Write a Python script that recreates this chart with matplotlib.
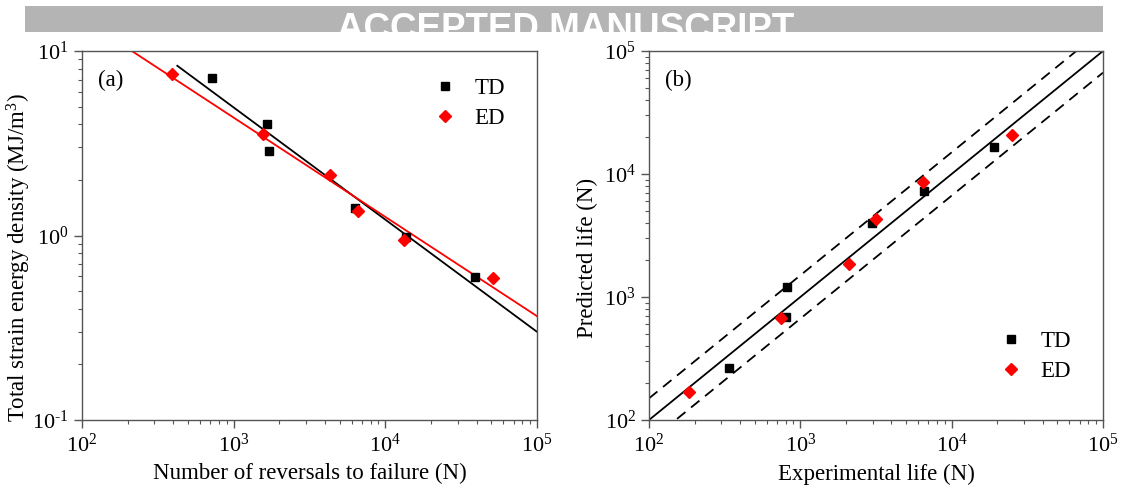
import numpy as np
import matplotlib
matplotlib.use("Agg")
import matplotlib.pyplot as plt
from matplotlib.patches import Rectangle
from matplotlib.ticker import LogLocator, FuncFormatter, NullFormatter

plt.rcParams['font.family'] = ['Liberation Serif', 'DejaVu Serif']
plt.rcParams['mathtext.fontset'] = 'custom'
plt.rcParams['mathtext.rm'] = 'Liberation Serif'
plt.rcParams['mathtext.it'] = 'Liberation Serif:italic'

# ---- (a) strain energy density vs reversals ----
td_nf = [719, 1666, 1717, 6300, 13670, 39180]
td_w = [7.1, 4.0, 2.86, 1.415, 0.98, 0.598]
ed_nf = [390, 1553, 4315, 6630, 13340, 50960]
ed_w = [7.46, 3.54, 2.12, 1.356, 0.94, 0.589]

# power-law fits  W = A * N^b
td_fit_A, td_fit_b = 329.6, -0.608
ed_fit_A, ed_fit_b = 179.0, -0.538
td_fit_range = [425, 1e5]
ed_fit_range = [150, 1e5]

# ---- (b) predicted vs experimental life ----
td_exp = [338, 800, 821, 2990, 6610, 19100]
td_pred = [263, 693, 1214, 3960, 7330, 16600]
ed_exp = [184, 741, 2110, 3177, 6450, 24900]
ed_pred = [170, 676, 1850, 4270, 8630, 20600]
band_factor = 1.5
life_range = [1e2, 1e5]

fig = plt.figure(figsize=(11.23, 4.93), dpi=100)

# banner across the top
banner = Rectangle((25 / 1123, 1 - 32 / 493), (1103 - 25) / 1123, 26 / 493,
                   transform=fig.transFigure, facecolor='#b4b4b4',
                   edgecolor='none')
fig.patches.append(banner)
t = fig.text(566 / 1123, 1 - 39 / 493, 'ACCEPTED MANUSCRIPT', color='white',
             fontsize=26.5, fontweight='bold', family='Liberation Sans',
             ha='center', va='baseline')
t.set_clip_path(banner)

ax1 = fig.add_axes([82 / 1123, 1 - 420 / 493, 455 / 1123, 369 / 493])
ax2 = fig.add_axes([649 / 1123, 1 - 420 / 493, 454 / 1123, 369 / 493])


def pow10(v, pos):
    # plain hyphen for negative exponents, like the original figure
    e = int(round(np.log10(v)))
    return r'$\mathdefault{10^{%s}}$' % str(e).replace('-', '\u2010')


def style_axis(ax):
    ax.set_xscale('log')
    ax.set_yscale('log')
    for s in ax.spines.values():
        s.set_color('#555555')
        s.set_linewidth(1.0)
    ax.tick_params(which='both', direction='out', top=False, right=False,
                   colors='#555555', labelcolor='black', labelsize=16)
    ax.tick_params(which='major', length=6, width=1.0)
    ax.tick_params(which='minor', length=3, width=0.8)
    for axis in (ax.xaxis, ax.yaxis):
        axis.set_major_locator(LogLocator(base=10, numticks=10))
        axis.set_minor_locator(LogLocator(base=10, subs=np.arange(2, 10), numticks=10))
        axis.set_major_formatter(FuncFormatter(pow10))
        axis.set_minor_formatter(NullFormatter())


style_axis(ax1)
n = np.logspace(np.log10(td_fit_range[0]), np.log10(td_fit_range[1]), 50)
ax1.plot(n, td_fit_A * n ** td_fit_b, color='black', lw=1.3, zorder=2)
n = np.logspace(np.log10(ed_fit_range[0]), np.log10(ed_fit_range[1]), 50)
ax1.plot(n, ed_fit_A * n ** ed_fit_b, color='red', lw=1.3, zorder=2)
ax1.plot(td_nf, td_w, 's', color='black', ms=6, label='TD', zorder=3)
ax1.plot(ed_nf, ed_w, 'D', color='red', ms=6, label='ED', zorder=3)
ax1.set_xlim(1e2, 1e5)
ax1.set_ylim(1e-1, 1e1)
ax1.set_xlabel('Number of reversals to failure (N)', fontsize=16.5, labelpad=5)
ax1.set_ylabel('Total strain energy density (MJ/m$^3$)', fontsize=16.5)
ax1.yaxis.set_label_coords(-0.108, 0.44)
ax1.text(0.035, 0.92, '(a)', transform=ax1.transAxes, fontsize=16.5, va='center')
ax1.legend(loc='upper right', frameon=False, fontsize=16.5, handlelength=1.2,
           handletextpad=0.7, labelspacing=0.4, borderaxespad=0.6,
           bbox_to_anchor=(0.98, 0.99))

style_axis(ax2)
x = np.array(life_range)
ax2.plot(x, x, color='black', lw=1.3)
ax2.plot(x, x * band_factor, color='black', lw=1.3, ls=(0, (6, 4)))
ax2.plot(x, x / band_factor, color='black', lw=1.3, ls=(0, (6, 4)))
ax2.plot(td_exp, td_pred, 's', color='black', ms=6, label='TD', zorder=3)
ax2.plot(ed_exp, ed_pred, 'D', color='red', ms=6, label='ED', zorder=3)
ax2.set_xlim(1e2, 1e5)
ax2.set_ylim(1e2, 1e5)
ax2.set_xlabel('Experimental life (N)', fontsize=16.5, labelpad=5)
ax2.set_ylabel('Predicted life (N)', fontsize=16.5)
ax2.yaxis.set_label_coords(-0.113, 0.44)
ax2.text(0.035, 0.92, '(b)', transform=ax2.transAxes, fontsize=16.5, va='center')
ax2.legend(loc='lower right', frameon=False, fontsize=16.5, handlelength=1.2,
           handletextpad=0.7, labelspacing=0.4, borderaxespad=0.6,
           bbox_to_anchor=(0.98, 0.04))

fig.savefig('out.png', dpi=100)
